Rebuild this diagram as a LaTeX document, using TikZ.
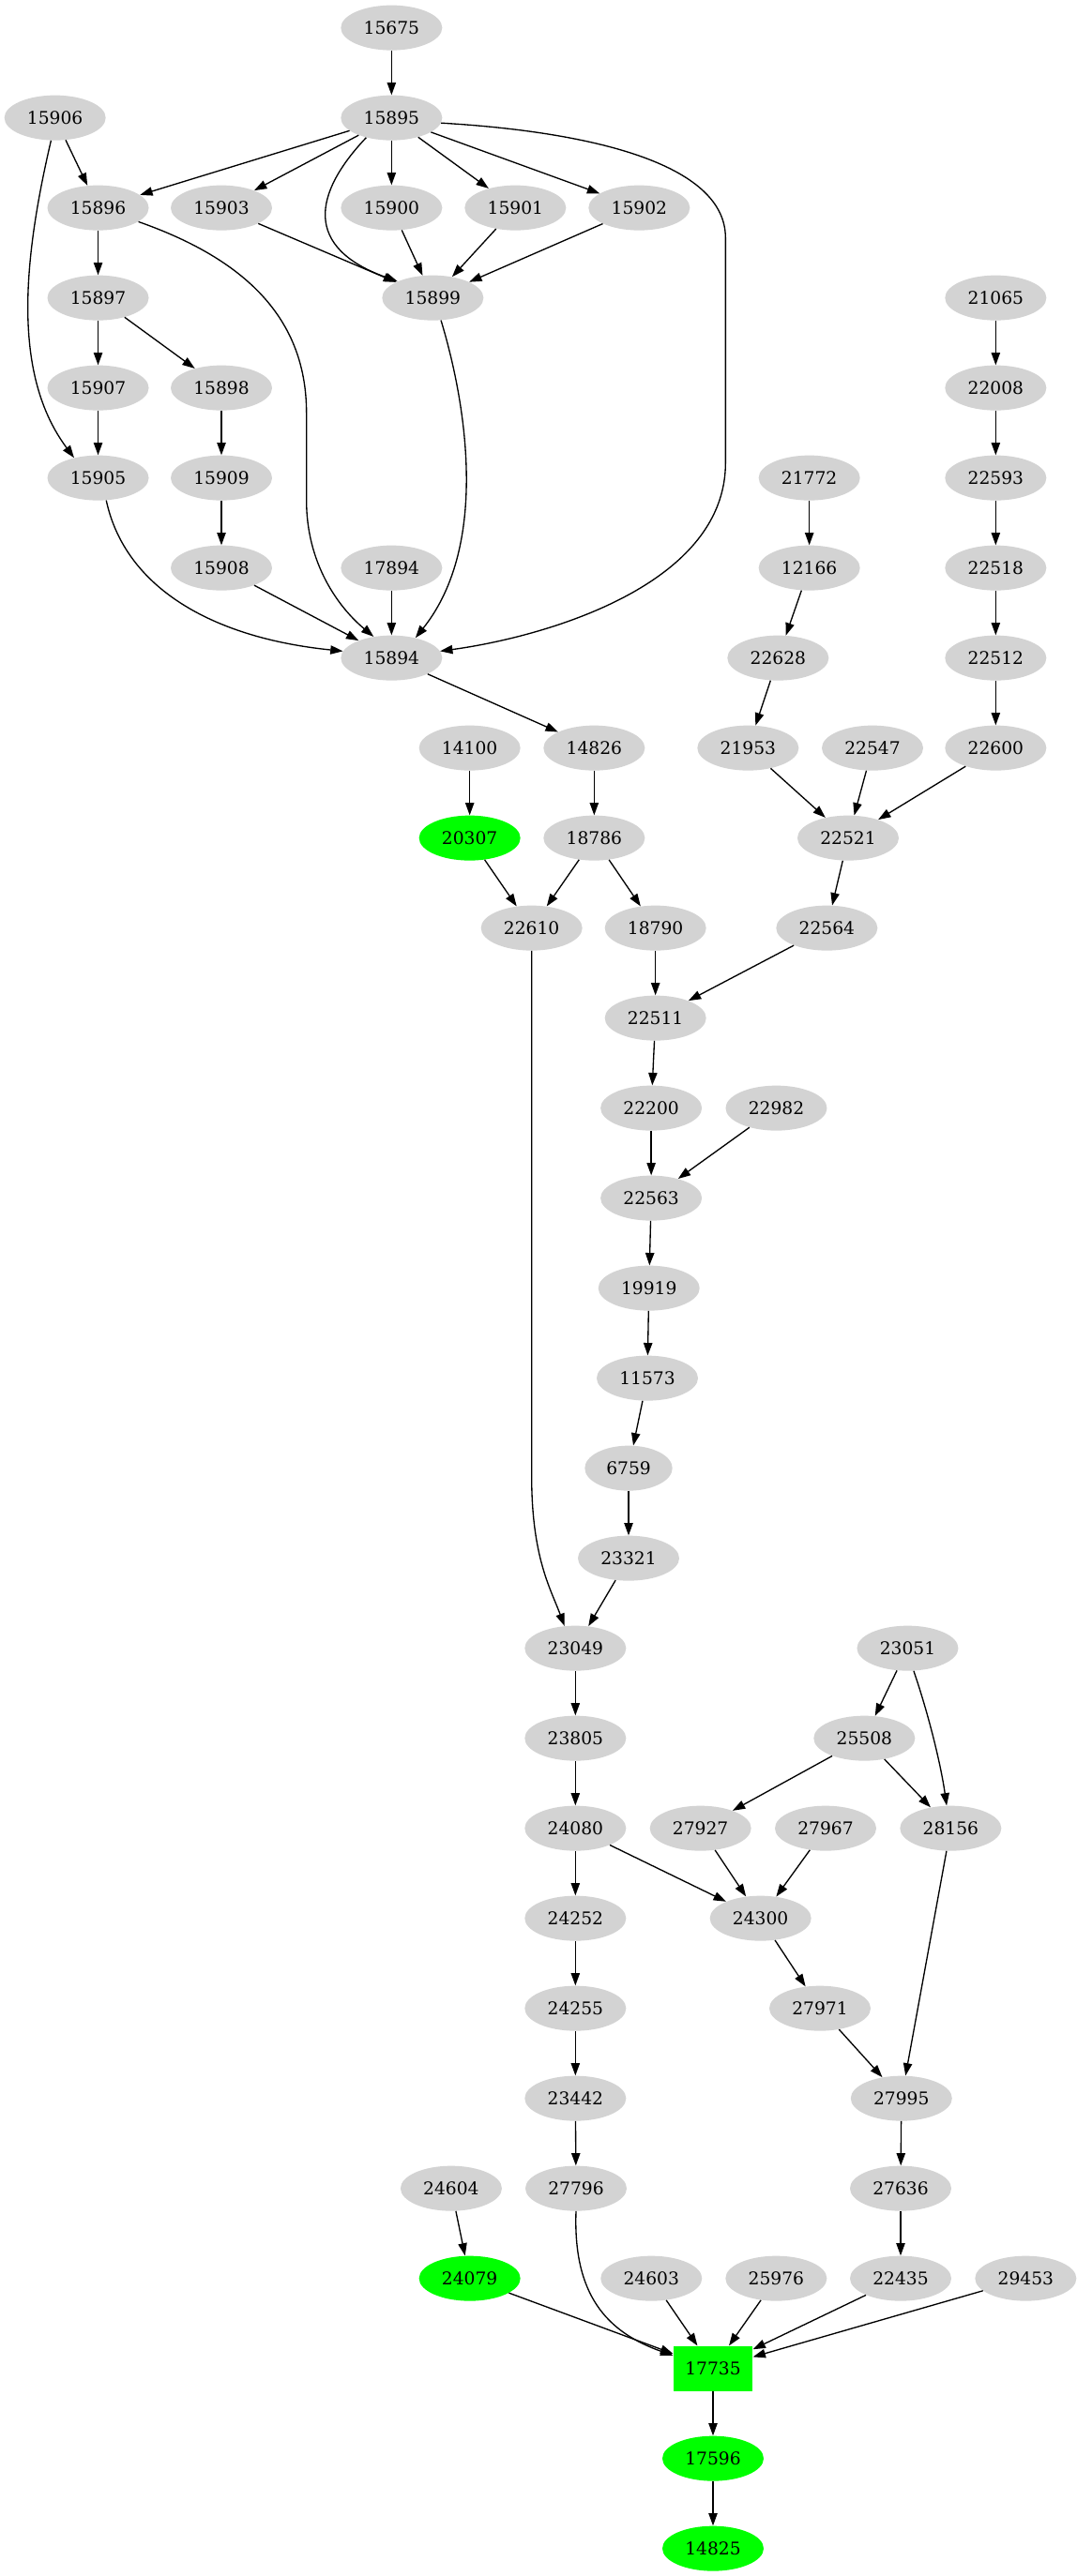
\documentclass[tikz,border=0pt]{standalone}
\usepackage{fontspec}
\setmainfont{DejaVu Serif}
\usetikzlibrary{shapes.geometric,arrows.meta}
\definecolor{nodegray}{HTML}{D3D3D3}
\definecolor{nodegreen}{HTML}{00FF00}
\begin{document}
\begin{tikzpicture}[x=1pt,y=1pt,
  gnode/.style={ellipse,fill=nodegray,draw=none,minimum width=81pt,minimum height=36pt,inner sep=0pt,font=\fontsize{14pt}{16.8pt}\selectfont},
  hnode/.style={gnode,fill=nodegreen},
  snode/.style={gnode,minimum width=70pt},
  bnode/.style={rectangle,fill=nodegreen,draw=none,minimum width=63.5pt,minimum height=36pt,inner sep=0pt,font=\fontsize{14pt}{16.8pt}\selectfont},
  conn/.style={-{Triangle[length=10pt,width=7pt]},line width=1pt,black}
]
\useasboundingbox (0,0) rectangle (860.25,2060.25);
% rank 0..28 : y = 2038 - 72k
\node[gnode] (n15675) at (313,2038) {15675};
\node[gnode] (n15906) at (44,1966) {15906};
\node[gnode] (n15895) at (313,1966) {15895};
\node[gnode] (n15896) at (78.4,1894) {15896};
\node[gnode] (n15903) at (177,1894) {15903};
\node[gnode] (n15900) at (313,1894) {15900};
\node[gnode] (n15901) at (412,1894) {15901};
\node[gnode] (n15902) at (511,1894) {15902};
\node[gnode] (n15897) at (78.4,1822) {15897};
\node[gnode] (n15899) at (346,1822) {15899};
\node[gnode] (n21065) at (796,1822) {21065};
\node[gnode] (n15907) at (78.4,1750) {15907};
\node[gnode] (n15898) at (177,1750) {15898};
\node[gnode] (n22008) at (796,1750) {22008};
\node[gnode] (n15905) at (78.4,1678) {15905};
\node[gnode] (n15909) at (177,1678) {15909};
\node[gnode] (n21772) at (647,1678) {21772};
\node[gnode] (n22593) at (796,1678) {22593};
\node[gnode] (n15908) at (177,1606) {15908};
\node[gnode] (n17894) at (313,1606) {17894};
\node[gnode] (n12166) at (647,1606) {12166};
\node[gnode] (n22518) at (796,1606) {22518};
\node[gnode] (n15894) at (313,1534) {15894};
\node[gnode] (n22628) at (622,1534) {22628};
\node[gnode] (n22512) at (796,1534) {22512};
\node[gnode] (n14100) at (375.5,1462) {14100};
\node[gnode] (n14826) at (475,1462) {14826};
\node[gnode] (n21953) at (598,1462) {21953};
\node[gnode] (n22547) at (697.5,1462) {22547};
\node[gnode] (n22600) at (796,1462) {22600};
\node[hnode] (n20307) at (375.5,1390) {20307};
\node[gnode] (n18786) at (475,1390) {18786};
\node[gnode] (n22521) at (678,1390) {22521};
\node[gnode] (n22610) at (425,1318) {22610};
\node[gnode] (n18790) at (524,1318) {18790};
\node[gnode] (n22564) at (661,1318) {22564};
\node[gnode] (n22511) at (524,1246) {22511};
\node[gnode] (n22200) at (520.6,1174) {22200};
\node[gnode] (n22982) at (620.6,1174) {22982};
\node[gnode] (n22563) at (520.6,1102) {22563};
\node[gnode] (n19919) at (518.8,1030) {19919};
\node[gnode] (n11573) at (517.5,958) {11573};
\node[snode] (n6759) at (502.5,886) {6759};
\node[gnode] (n23321) at (502.5,814) {23321};
\node[gnode] (n23049) at (460,742) {23049};
\node[gnode] (n23051) at (725.6,742) {23051};
\node[gnode] (n23805) at (460,670) {23805};
\node[gnode] (n25508) at (691,670) {25508};
\node[gnode] (n24080) at (460,598) {24080};
\node[gnode] (n27927) at (560,598) {27927};
\node[gnode] (n27967) at (660,598) {27967};
\node[gnode] (n28156) at (760,598) {28156};
\node[gnode] (n24252) at (460,526) {24252};
\node[gnode] (n24300) at (608,526) {24300};
\node[gnode] (n24255) at (460,454) {24255};
\node[gnode] (n27971) at (655.5,454) {27971};
\node[gnode] (n23442) at (460,382) {23442};
\node[gnode] (n27995) at (720.6,382) {27995};
\node[gnode] (n24604) at (360.7,310) {24604};
\node[gnode] (n27796) at (460.5,310) {27796};
\node[gnode] (n27636) at (720,310) {27636};
\node[hnode] (n24079) at (375.5,238) {24079};
\node[gnode] (n24603) at (520.7,238) {24603};
\node[gnode] (n25976) at (620.5,238) {25976};
\node[gnode] (n22435) at (720,238) {22435};
\node[gnode] (n29453) at (820,238) {29453};
\node[bnode] (n17735) at (570,166) {17735};
\node[hnode] (n17596) at (570,94) {17596};
\node[hnode] (n14825) at (570,22) {14825};

% edges
\draw[conn] (n15675) -- (n15895);
\draw[conn] (n15906) -- (n15896);
\draw[conn] (n15906.260) .. controls (18,1850) and (10,1760) .. (n15905.140);
\draw[conn] (n15895) -- (n15896);
\draw[conn] (n15895) -- (n15903);
\draw[conn] (n15895.218) .. controls (250,1905) and (243,1862) .. (n15899.155);
\draw[conn] (n15895) -- (n15900);
\draw[conn] (n15895) -- (n15901);
\draw[conn] (n15895) -- (n15902);
\draw[conn] (n15895.354) .. controls (470,1955) and (580,1930) .. (580,1870) -- (580,1690) .. controls (580,1590) and (430,1550) .. (n15894.8);
\draw[conn] (n15896) -- (n15897);
\draw[conn] (n15896.341) .. controls (190,1855) and (245,1810) .. (245,1730) -- (245,1660) .. controls (245,1610) and (270,1575) .. (n15894.130);
\draw[conn] (n15903) -- (n15899);
\draw[conn] (n15900) -- (n15899);
\draw[conn] (n15901) -- (n15899);
\draw[conn] (n15902) -- (n15899);
\draw[conn] (n15897) -- (n15907);
\draw[conn] (n15897) -- (n15898);
\draw[conn] (n15907) -- (n15905);
\draw[conn] (n15898) -- (n15909);
\draw[conn] (n15909) -- (n15908);
\draw[conn] (n15905.290) .. controls (100,1590) and (170,1550) .. (n15894.172);
\draw[conn] (n15908) -- (n15894);
\draw[conn] (n17894) -- (n15894);
\draw[conn] (n15899.290) .. controls (372,1740) and (392,1625) .. (n15894.40);
\draw[conn] (n15894) -- (n14826);
\draw[conn] (n14100) -- (n20307);
\draw[conn] (n14826) -- (n18786);
\draw[conn] (n20307) -- (n22610);
\draw[conn] (n18786) -- (n22610);
\draw[conn] (n18786) -- (n18790);
\draw[conn] (n21065) -- (n22008);
\draw[conn] (n22008) -- (n22593);
\draw[conn] (n22593) -- (n22518);
\draw[conn] (n22518) -- (n22512);
\draw[conn] (n22512) -- (n22600);
\draw[conn] (n21772) -- (n12166);
\draw[conn] (n12166) -- (n22628);
\draw[conn] (n22628) -- (n21953);
\draw[conn] (n21953) -- (n22521);
\draw[conn] (n22547) -- (n22521);
\draw[conn] (n22600) -- (n22521);
\draw[conn] (n22521) -- (n22564);
\draw[conn] (n22564) -- (n22511);
\draw[conn] (n18790) -- (n22511);
\draw[conn] (n22511) -- (n22200);
\draw[conn] (n22200) -- (n22563);
\draw[conn] (n22982) -- (n22563);
\draw[conn] (n22563) -- (n19919);
\draw[conn] (n19919) -- (n11573);
\draw[conn] (n11573) -- (n6759);
\draw[conn] (n6759) -- (n23321);
\draw[conn] (n23321) -- (n23049);
\draw[conn] (n22610) -- (425,880) .. controls (425,815) and (440,790) .. (n23049.116);
\draw[conn] (n23049) -- (n23805);
\draw[conn] (n23805) -- (n24080);
\draw[conn] (n23051) -- (n25508);
\draw[conn] (n23051.285) .. controls (742,690) and (752,650) .. (n28156.100);
\draw[conn] (n25508) -- (n27927);
\draw[conn] (n25508) -- (n28156);
\draw[conn] (n24080) -- (n24252);
\draw[conn] (n24080) -- (n24300);
\draw[conn] (n27927) -- (n24300);
\draw[conn] (n27967) -- (n24300);
\draw[conn] (n24252) -- (n24255);
\draw[conn] (n24255) -- (n23442);
\draw[conn] (n23442) -- (n27796);
\draw[conn] (n24300) -- (n27971);
\draw[conn] (n27971) -- (n27995);
\draw[conn] (n28156) -- (n27995);
\draw[conn] (n27995) -- (n27636);
\draw[conn] (n27636) -- (n22435);
\draw[conn] (n24604) -- (n24079);
\draw[conn] (n24079) -- (n17735);
\draw[conn] (n27796.south) .. controls (458,225) and (485,195) .. (n17735.162);
\draw[conn] (n24603) -- (n17735);
\draw[conn] (n25976) -- (n17735);
\draw[conn] (n22435) -- (n17735);
\draw[conn] (n29453) -- (n17735);
\draw[conn] (n17735) -- (n17596);
\draw[conn] (n17596) -- (n14825);
\end{tikzpicture}
\end{document}
